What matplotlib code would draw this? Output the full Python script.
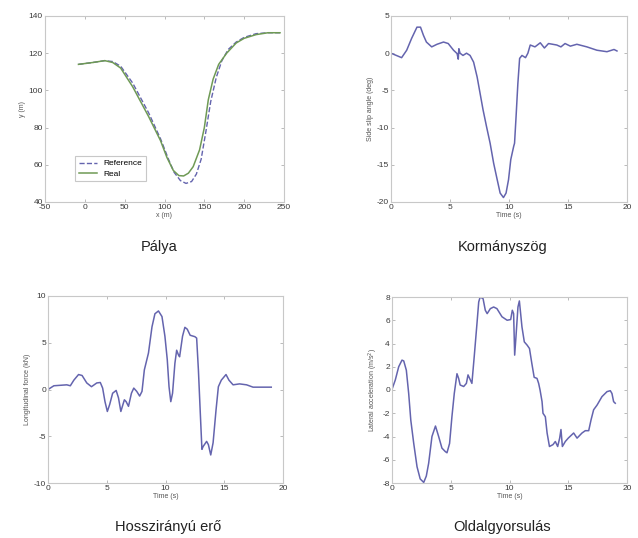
import matplotlib
matplotlib.use("Agg")
import matplotlib.pyplot as plt

plt.rcParams['font.family'] = ['Liberation Sans', 'DejaVu Sans']
plt.rcParams['axes.unicode_minus'] = False

# === Pálya (trajectory) ===
ref_x = [-8, 10, 25, 35, 45, 60, 80, 95, 105, 112, 120, 127, 134, 140, 146, 152, 158, 165, 172, 180, 190, 200, 215, 230, 245]
ref_y = [114, 115, 116, 115.5, 113, 104, 88, 74, 63, 56, 51.5, 50, 51, 55, 63, 78, 94, 107, 116, 122, 126, 128.5, 130.5, 131, 131]
real_x = [-8, 10, 25, 35, 45, 60, 80, 95, 103, 111, 118, 124, 130, 136, 144, 150, 155, 161, 168, 178, 190, 200, 215, 230, 245]
real_y = [114, 115, 116, 115, 112, 102, 86, 73, 64, 57, 54.2, 54, 55.5, 59, 68, 80, 95, 106, 114, 120, 125.5, 128, 130, 131, 131]

# === Kormányszög (side slip angle) ===
t_slip = [0, 0.9, 1.33, 1.75, 2.2, 2.5, 2.75, 3.0, 3.45, 3.9, 4.45, 4.85, 5.3, 5.6, 5.7, 5.75, 5.85,
          6.1, 6.4, 6.7, 7.0, 7.3, 7.55, 7.8, 8.1, 8.4, 8.7, 9.0, 9.25, 9.53, 9.75, 9.96, 10.15,
          10.4, 10.47, 10.6, 10.75, 10.9, 11.1, 11.4, 11.6, 11.8, 12.2, 12.65, 13.0, 13.35, 14.05,
          14.4, 14.75, 15.2, 15.75, 16.6, 17.45, 18.3, 18.9, 19.15]
slip = [0, -0.6, 0.4, 2.0, 3.5, 3.5, 2.4, 1.5, 0.85, 1.2, 1.5, 1.3, 0.4, -0.05, -0.8, 0.6, 0,
        -0.3, 0, -0.3, -1.2, -3.2, -5.4, -7.6, -9.9, -12.1, -14.8, -17.0, -18.8, -19.4, -18.8, -17.0, -14.3,
        -12.5, -12.1, -8.5, -4.1, -0.7, -0.3, -0.6, 0, 1.1, 0.85, 1.4, 0.7, 1.3, 1.1,
        0.85, 1.3, 0.95, 1.2, 0.85, 0.4, 0.2, 0.5, 0.3]

# === Hosszirányú erő (longitudinal force) ===
t_force = [0, 0.5, 1.6, 1.9, 2.2, 2.6, 2.9, 3.3, 3.7, 4.15, 4.45, 4.65, 4.85, 5.05, 5.25, 5.5, 5.8,
           6.0, 6.2, 6.5, 6.65, 6.85, 7.1, 7.3, 7.55, 7.8, 8.0, 8.2, 8.55, 8.85, 9.1, 9.4, 9.7,
           9.95, 10.15, 10.3, 10.45, 10.6, 10.8, 10.95, 11.1, 11.2, 11.45, 11.65, 11.85, 12.1, 12.5,
           12.65, 12.8, 12.95, 13.1, 13.2, 13.5, 13.65, 13.85, 14.05, 14.3, 14.5, 14.75, 15.15, 15.4,
           15.75, 16.3, 16.9, 17.45, 18.3, 19.0]
force = [0.0, 0.4, 0.5, 0.4, 1.0, 1.6, 1.5, 0.7, 0.3, 0.7, 0.75, 0.15, -1.3, -2.35, -1.6, -0.4, -0.1,
         -0.9, -2.35, -1.1, -1.3, -1.8, -0.4, 0.15, -0.2, -0.7, -0.2, 2.1, 3.9, 6.7, 8.1, 8.4, 7.8,
         5.7, 3.2, 0.3, -1.3, -0.4, 2.8, 4.2, 3.7, 3.5, 5.7, 6.65, 6.45, 5.8, 5.65,
         5.5, 2.1, -2.2, -6.4, -6.1, -5.55, -5.9, -7.0, -5.7, -2.2, 0.3, 1.0, 1.6, 1.0,
         0.5, 0.6, 0.5, 0.25, 0.25, 0.25]

# === Oldalgyorsulás (lateral acceleration) ===
t_acc = [0, 0.28, 0.57, 0.85, 1.0, 1.22, 1.42, 1.6, 1.85, 2.13, 2.4, 2.7, 2.92, 3.12, 3.4, 3.7,
         3.97, 4.25, 4.54, 4.68, 4.9, 5.1, 5.3, 5.53, 5.67, 5.8, 6.1, 6.33, 6.47, 6.67, 6.8, 7.0,
         7.23, 7.38, 7.5, 7.75, 7.94, 8.1, 8.37, 8.65, 8.93, 9.36, 9.8, 10.1, 10.24, 10.35, 10.44,
         10.55, 10.72, 10.84, 10.92, 11.06, 11.26, 11.5, 11.7, 11.9, 12.1, 12.34, 12.48, 12.6,
         12.77, 12.85, 13.05, 13.2, 13.4, 13.7, 13.9, 14.1, 14.27, 14.38, 14.5, 14.75, 15.0, 15.46,
         15.75, 16.17, 16.45, 16.74, 16.94, 17.16, 17.45, 17.87, 18.3, 18.58, 18.72, 18.86, 19.0]
acc = [0.06, 0.86, 2.0, 2.57, 2.5, 1.7, -0.3, -2.6, -4.6, -6.6, -7.65, -7.95, -7.4, -6.3, -4.0, -3.1,
       -4.0, -5.0, -5.3, -5.4, -4.6, -2.3, -0.3, 1.4, 1.0, 0.43, 0.3, 0.57, 1.3, 0.86, 0.57, 2.9,
       5.7, 7.57, 8.0, 7.86, 6.86, 6.57, 7.0, 7.14, 7.0, 6.3, 6.0, 6.06, 6.86, 6.57, 3.0,
       4.57, 7.14, 7.66, 6.86, 5.43, 4.14, 3.86, 3.57, 2.29, 1.09, 1.0, 0.57, 0.0,
       -1.0, -2.0, -2.3, -3.7, -4.86, -4.7, -4.43, -4.86, -4.14, -3.4, -4.86, -4.43, -4.14, -3.7,
       -4.14, -3.7, -3.5, -3.5, -2.57, -1.7, -1.3, -0.57, -0.14, -0.06, -0.3, -1.0, -1.14]

blue = '#6464ae'
green = '#6f9a55'
W, H = 638, 538

fig = plt.figure(figsize=(6.38, 5.38), dpi=100)


def make_ax(l, t, r, b):
    ax = fig.add_axes([l / W, 1 - b / H, (r - l) / W, (b - t) / H])
    for s in ax.spines.values():
        s.set_color('#c8c8c8')
        s.set_linewidth(0.8)
    ax.tick_params(direction='in', length=2.5, width=0.6, color='#b0b0b0',
                   labelsize=6, labelcolor='#3a3a3a', top=True, right=True, pad=1.5)
    return ax


ax1 = make_ax(45, 16, 284, 202)
ax1.plot(ref_x, ref_y, '--', color=blue, lw=1.0, label='Reference')
ax1.plot(real_x, real_y, '-', color=green, lw=1.1, label='Real')
ax1.set_xlim(-50, 250)
ax1.set_ylim(40, 140)
ax1.set_xticks([-50, 0, 50, 100, 150, 200, 250])
ax1.set_yticks([40, 60, 80, 100, 120, 140])
ax1.set_xlabel('x (m)', fontsize=5, color='#555555', labelpad=1)
ax1.set_ylabel('y (m)', fontsize=5, color='#555555', labelpad=2)
leg = ax1.legend(loc='lower left', bbox_to_anchor=(0.11, 0.09), fontsize=6,
                 handlelength=2.2, borderpad=0.4, labelspacing=0.3, fancybox=False,
                 framealpha=1)
leg.get_frame().set_edgecolor('#c8c8c8')
leg.get_frame().set_linewidth(0.8)

ax2 = make_ax(391, 16, 627, 202)
ax2.plot(t_slip, slip, color=blue, lw=1.1)
ax2.set_xlim(0, 20)
ax2.set_ylim(-20, 5)
ax2.set_xticks([0, 5, 10, 15, 20])
ax2.set_yticks([-20, -15, -10, -5, 0, 5])
ax2.set_xlabel('Time (s)', fontsize=5, color='#555555', labelpad=1)
ax2.set_ylabel('Side slip angle (deg)', fontsize=5, color='#555555', labelpad=2)

ax3 = make_ax(48, 296, 283, 483)
ax3.plot(t_force, force, color=blue, lw=1.1)
ax3.set_xlim(0, 20)
ax3.set_ylim(-10, 10)
ax3.set_xticks([0, 5, 10, 15, 20])
ax3.set_yticks([-10, -5, 0, 5, 10])
ax3.set_xlabel('Time (s)', fontsize=5, color='#555555', labelpad=1)
ax3.set_ylabel('Longitudinal force (kN)', fontsize=5, color='#555555', labelpad=2)

ax4 = make_ax(392, 297, 627, 483)
ax4.plot(t_acc, acc, color=blue, lw=1.1)
ax4.set_xlim(0, 20)
ax4.set_ylim(-8, 8)
ax4.set_xticks([0, 5, 10, 15, 20])
ax4.set_yticks([-8, -6, -4, -2, 0, 2, 4, 6, 8])
ax4.set_xlabel('Time (s)', fontsize=5, color='#555555', labelpad=1)
ax4.set_ylabel('Lateral acceleration (m/s$^2$)', fontsize=5, color='#555555', labelpad=2)

# captions under each panel
for txt, x, y in [('Pálya', 159, 247), ('Kormányszög', 503, 247),
                  ('Hosszirányú erő', 168, 527), ('Oldalgyorsulás', 502, 527)]:
    fig.text(x / W, 1 - y / H, txt, ha='center', va='center', fontsize=10.5, color='#222222')

fig.savefig('out.png', dpi=100)
